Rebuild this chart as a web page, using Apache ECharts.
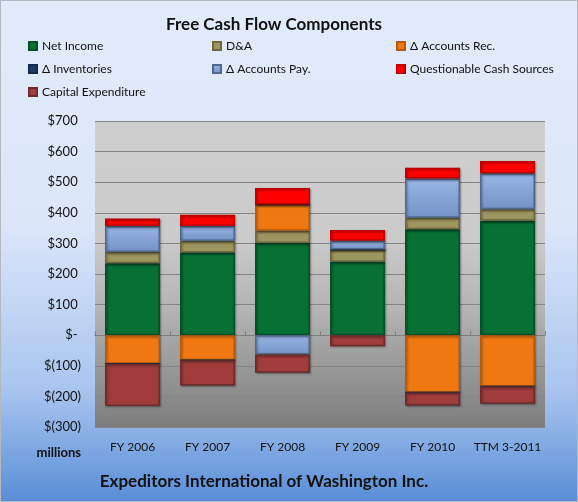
<!DOCTYPE html>
<html>
<head>
<meta charset="utf-8">
<script src="https://cdn.jsdelivr.net/npm/echarts@6/dist/echarts.min.js"></script>
<style>
html, body { margin: 0; padding: 0; background: #fff; }
#chart { width: 576px; height: 500px; border: 1px solid #b4b8c0; }
</style>
</head>
<body>
<div id="chart"></div>
<script>
// 数据 (millions)
var categories = ['FY 2006', 'FY 2007', 'FY 2008', 'FY 2009', 'FY 2010', 'TTM 3-2011'];
var netIncome = [235, 270, 301, 240, 346, 374];
var dna = [37, 38, 40, 40, 38, 38];
var accountsRec = [-93, -82, 86, 0, -187, -168];
var inventories = [0, 0, 0, 0, 0, 0];
var accountsPay = [85, 49, -63, 29, 128, 117];
var questionable = [24, 37, 54, 35, 35, 40];
var capex = [-138, -82, -60, -36, -43, -56];
var yTicks = { min: -300, max: 700, interval: 100 };

var chart = echarts.init(document.getElementById('chart'));
var font = 'Lato, "Liberation Sans", sans-serif';

// 堆叠柱 (正负分开堆叠)
function bar(name, data, color, border) {
    return {
        name: name,
        type: 'bar',
        stack: 'fcf',
        barWidth: 55,
        data: data,
        itemStyle: {
            color: color,
            borderColor: border,
            borderWidth: 1.5,
            shadowColor: 'rgba(0,0,0,0.35)',
            shadowBlur: 2,
            shadowOffsetX: 1,
            shadowOffsetY: 1
        }
    };
}

var legendText = { fontFamily: font, fontSize: 12, color: '#111' };
function legendCol(left, names) {
    return {
        orient: 'vertical',
        left: left,
        top: 34,
        itemWidth: 8,
        itemHeight: 8,
        itemGap: 11,
        icon: 'rect',
        selectedMode: false,
        textStyle: legendText,
        data: names
    };
}

var option = {
    backgroundColor: new echarts.graphic.LinearGradient(0, 0, 0, 1, [
        { offset: 0, color: '#e1ebfb' },
        { offset: 0.45, color: '#dbe6f9' },
        { offset: 0.78, color: '#a8c4ee' },
        { offset: 1, color: '#5a8ed7' }
    ]),
    animation: false,
    legend: [
        legendCol(22, ['Net Income', 'Δ Inventories', 'Capital Expenditure']),
        legendCol(206, ['D&A', 'Δ Accounts Pay.']),
        legendCol(390, ['Δ Accounts Rec.', 'Questionable Cash Sources'])
    ],
    graphic: [
        { type: 'text', x: 273, y: 24, style: { text: 'Free Cash Flow Components', font: 'bold 17px ' + font, fill: '#111', align: 'center', verticalAlign: 'middle' } },
        { type: 'text', x: 80, y: 452, style: { text: 'millions', font: 'bold 13px ' + font, fill: '#111', align: 'right', verticalAlign: 'middle' } },
        { type: 'text', x: 263, y: 481, style: { text: 'Expeditors International of Washington Inc.', font: 'bold 17px ' + font, fill: '#111', align: 'center', verticalAlign: 'middle' } }
    ],
    grid: {
        left: 94, right: 32, top: 120, bottom: 74,
        show: true,
        borderWidth: 0,
        backgroundColor: new echarts.graphic.LinearGradient(0, 0, 0, 1, [
            { offset: 0, color: '#cfcfcf' },
            { offset: 0.38, color: '#cbcbcb' },
            { offset: 0.62, color: '#b3b3b3' },
            { offset: 1, color: '#7d7d7d' }
        ])
    },
    xAxis: [{
        // 零线上的刻度
        type: 'category',
        data: categories,
        axisLine: { onZero: true, lineStyle: { color: '#7f7f7f', width: 1 } },
        axisTick: { show: true, inside: true, length: 4, interval: 0, lineStyle: { color: '#7f7f7f' } },
        axisLabel: { show: false }
    }, {
        // 底部类目标签
        type: 'category',
        data: categories,
        position: 'bottom',
        axisLine: { show: false, onZero: false },
        axisTick: { show: false },
        axisLabel: { margin: 14, fontFamily: font, fontSize: 12, color: '#111', interval: 0 }
    }],
    yAxis: {
        type: 'value',
        min: yTicks.min,
        max: yTicks.max,
        interval: yTicks.interval,
        axisLine: { show: false },
        axisTick: { show: false },
        splitLine: { lineStyle: { color: '#858585', width: 1 } },
        axisLabel: {
            margin: 14,
            fontFamily: font,
            fontSize: 13,
            color: '#111',
            formatter: function (v) {
                if (v > 0) return '$' + v + ' ';
                if (v === 0) return '$- ';
                return '$(' + (-v) + ')';
            }
        }
    },
    series: [
        bar('Net Income', netIncome, '#077035', '#04502a'),
        bar('D&A', dna, '#9e9661', '#6d6840'),
        bar('Δ Accounts Rec.', accountsRec, '#f07812', '#b65a0c'),
        bar('Δ Inventories', inventories, '#1f3a68', '#15294a'),
        bar('Δ Accounts Pay.', accountsPay, new echarts.graphic.LinearGradient(0, 0, 0, 1, [
            { offset: 0, color: '#97b5e4' },
            { offset: 1, color: '#7493c7' }
        ]), '#52698f'),
        bar('Questionable Cash Sources', questionable, '#ff0000', '#c00000'),
        bar('Capital Expenditure', capex, '#a03c3c', '#702a2a')
    ]
};

chart.setOption(option);
window.addEventListener('resize', chart.resize);
</script>
</body>
</html>
